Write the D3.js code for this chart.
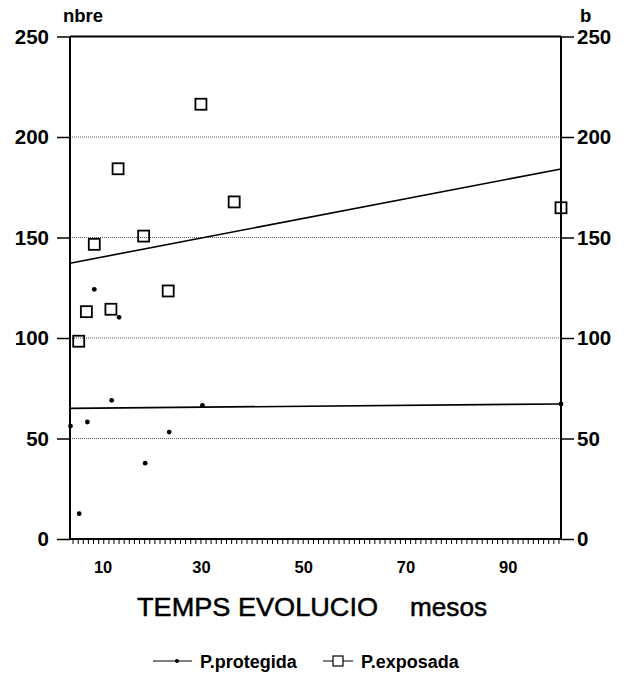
<!DOCTYPE html>
<html>
<head>
<meta charset="utf-8">
<script src="https://cdn.jsdelivr.net/npm/d3@7"></script>
<style>
  html, body { margin: 0; padding: 0; background: #fff; }
  svg { display: block; }
  text { font-family: "Liberation Sans", Arial, Helvetica, sans-serif; fill: #000; }
</style>
</head>
<body>
<svg id="chart" width="630" height="682"></svg>
<script>
// Months of evolution (x) and counts for the protected and exposed plots
const protegidaMonths = [4.6, 6.3, 7.9, 9.25, 12.65, 14.1, 19.2, 23.9, 30.4, 100.5];
const protegidaValues = [56.2, 12.6, 58.2, 124.2, 69, 110.3, 37.7, 53.2, 66.5, 67.2];
const exposadaMonths = [6.2, 7.7, 9.25, 12.5, 13.9, 18.9, 23.7, 30.1, 36.6, 100.5];
const exposadaValues = [98.4, 113.1, 146.6, 114.3, 184.2, 150.7, 123.4, 216.3, 167.7, 164.8];

// Fitted trend lines (start and end values over the x domain)
const protegidaTrend = [[4.5, 65.0], [100.5, 67.2]];
const exposadaTrend = [[4.5, 137.2], [100.5, 184.1]];

const xTickLabels = [10, 30, 50, 70, 90];
const yTickLabels = [0, 50, 100, 150, 200, 250];
const gridValues = [50, 100, 150, 200];

const seriesNames = ["P.protegida", "P.exposada"];
const axisTitle = "TEMPS EVOLUCIO";
const axisUnit = "mesos";
const leftUnit = "nbre";
const rightUnit = "b";

const svg = d3.select("#chart");
const x = d3.scaleLinear().domain([4.5, 100.5]).range([70, 561]);
const y = d3.scaleLinear().domain([0, 250]).range([539, 36.5]);

const x0 = x.range()[0], x1 = x.range()[1];

// Dotted horizontal grid
svg.append("g").selectAll("line").data(gridValues).join("line")
  .attr("x1", x0).attr("x2", x1)
  .attr("y1", d => y(d)).attr("y2", d => y(d))
  .attr("stroke", "#555").attr("stroke-width", 1)
  .attr("stroke-dasharray", "1,1");

// Left axis
const leftAxis = d3.axisLeft(y).tickValues(yTickLabels).tickSize(13).tickPadding(8);
const gl = svg.append("g").attr("transform", `translate(${x0},0)`).call(leftAxis);
gl.select(".domain").attr("d", `M0,${y(0)}V${y(250)}`).attr("stroke-width", 2);
gl.selectAll(".tick line").attr("stroke-width", 1.5);
gl.selectAll(".tick text")
  .attr("font-size", 20.5).attr("font-weight", "bold")
  .attr("font-family", "Liberation Sans, Arial, sans-serif");

// Right axis
const rightAxis = d3.axisRight(y).tickValues(yTickLabels).tickSize(13).tickPadding(3);
const gr = svg.append("g").attr("transform", `translate(${x1},0)`).call(rightAxis);
gr.select(".domain").attr("d", `M0,${y(0)}V${y(250)}`).attr("stroke-width", 2);
gr.selectAll(".tick line").attr("stroke-width", 1.5);
gr.selectAll(".tick text")
  .attr("font-size", 20.5).attr("font-weight", "bold")
  .attr("font-family", "Liberation Sans, Arial, sans-serif");

// Top frame line
svg.append("line")
  .attr("x1", x0).attr("x2", x1)
  .attr("y1", y(250)).attr("y2", y(250))
  .attr("stroke", "#000").attr("stroke-width", 2);

// Bottom axis with one tick per month
const minorTicks = d3.range(5, 101, 1);
const bottomAxis = d3.axisBottom(x).tickValues(minorTicks).tickSize(5).tickFormat("");
const gb = svg.append("g").attr("transform", `translate(0,${y(0)})`).call(bottomAxis);
gb.select(".domain").attr("d", `M${x0},0H${x1}`).attr("stroke-width", 2);
gb.selectAll(".tick line").attr("stroke-width", 1);

svg.append("g").selectAll("text").data(xTickLabels).join("text")
  .attr("x", d => x(d) + (d === 10 ? 5 : 1)).attr("y", y(0) + 34)
  .attr("text-anchor", "middle")
  .attr("font-size", 16.5).attr("font-weight", "bold")
  .text(d => d);

// Axis unit labels above each vertical axis
svg.append("text").attr("x", x0 - 7).attr("y", 22)
  .attr("font-size", 18.5).attr("font-weight", "bold").text(leftUnit);
svg.append("text").attr("x", x1 + 19).attr("y", 22)
  .attr("font-size", 18.5).attr("font-weight", "bold").text(rightUnit);

const title = svg.append("text").attr("y", 616).attr("font-size", 25)
  .attr("stroke", "#000").attr("stroke-width", 0.5);
title.append("tspan").attr("x", 137).attr("textLength", 241)
  .attr("lengthAdjust", "spacingAndGlyphs").text(axisTitle);
title.append("tspan").attr("x", 410).attr("textLength", 77)
  .attr("lengthAdjust", "spacingAndGlyphs").text(axisUnit);

// Trend lines
const line = d3.line().x(d => x(d[0])).y(d => y(d[1]));
svg.append("path").datum(exposadaTrend).attr("d", line)
  .attr("fill", "none").attr("stroke", "#000").attr("stroke-width", 1.6);
svg.append("path").datum(protegidaTrend).attr("d", line)
  .attr("fill", "none").attr("stroke", "#000").attr("stroke-width", 1.6);

// Protected points: small dots
svg.append("g").selectAll("circle")
  .data(d3.zip(protegidaMonths, protegidaValues)).join("circle")
  .attr("cx", d => x(d[0])).attr("cy", d => y(d[1]))
  .attr("r", 2.4).attr("fill", "#000");

// Exposed points: open squares
const sq = 11;
svg.append("g").selectAll("rect")
  .data(d3.zip(exposadaMonths, exposadaValues)).join("rect")
  .attr("x", d => x(d[0]) - sq / 2).attr("y", d => y(d[1]) - sq / 2)
  .attr("width", sq).attr("height", sq)
  .attr("fill", "none").attr("stroke", "#000").attr("stroke-width", 1.8);

// Legend
const ly = 661;
const leg = svg.append("g");
leg.append("line").attr("x1", 153).attr("x2", 192).attr("y1", ly).attr("y2", ly)
  .attr("stroke", "#000").attr("stroke-width", 1);
leg.append("circle").attr("cx", 177).attr("cy", ly).attr("r", 2).attr("fill", "#000");
leg.append("text").attr("x", 200).attr("y", ly + 7)
  .attr("font-size", 18).attr("font-weight", "bold").text(seriesNames[0]);

leg.append("line").attr("x1", 323).attr("x2", 353).attr("y1", ly).attr("y2", ly)
  .attr("stroke", "#000").attr("stroke-width", 1);
leg.append("rect").attr("x", 333).attr("y", ly - 5).attr("width", 10).attr("height", 10)
  .attr("fill", "#fff").attr("stroke", "#000").attr("stroke-width", 1.2);
leg.append("text").attr("x", 361).attr("y", ly + 7)
  .attr("font-size", 18).attr("font-weight", "bold").text(seriesNames[1]);
</script>
</body>
</html>
